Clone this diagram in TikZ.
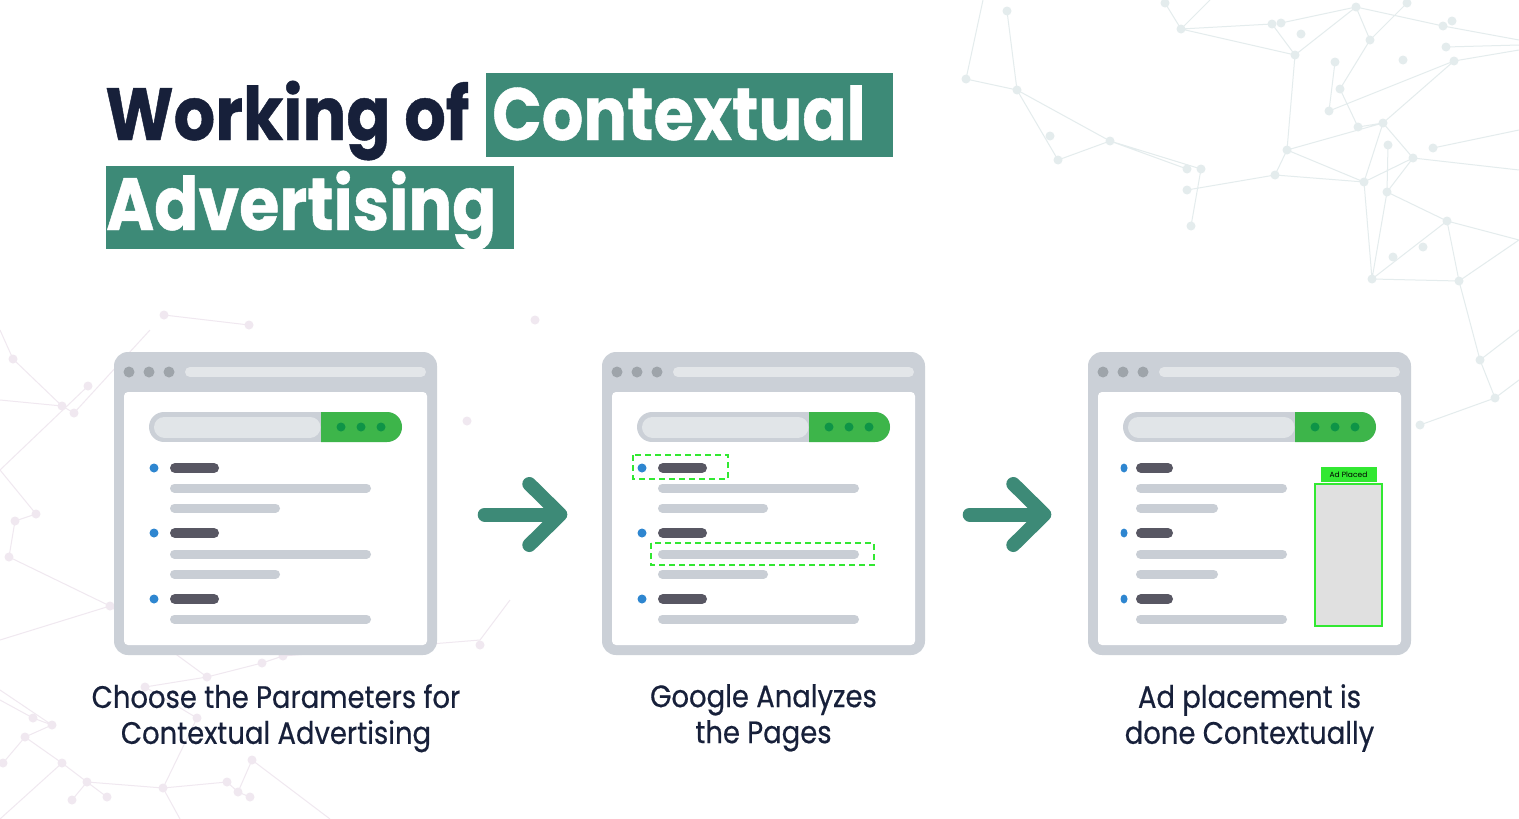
\documentclass[tikz,border=0pt]{standalone}
\usepackage{fontspec}
\setmainfont{Poppins}
\newfontfamily\headfont[FakeStretch=0.88, FakeBold=0.6]{Poppins}
\newfontfamily\capfont[FakeStretch=0.885, FakeBold=0.5]{Poppins}
\usepackage{tikz}
\usetikzlibrary{positioning,calc,arrows.meta}
\definecolor{cagreen}{RGB}{61,138,119}
\definecolor{canavy}{RGB}{23,32,58}
\definecolor{frame}{RGB}{203,208,215}
\definecolor{framedot}{RGB}{158,164,170}
\definecolor{addrbar}{RGB}{227,230,233}
\definecolor{field}{RGB}{225,229,232}
\definecolor{searchgreen}{RGB}{61,181,74}
\definecolor{searchdot}{RGB}{14,148,71}
\definecolor{bullet}{RGB}{46,134,208}
\definecolor{headbar}{RGB}{88,87,99}
\definecolor{textbar}{RGB}{201,206,213}
\definecolor{hilite}{RGB}{50,232,50}
\definecolor{adfill}{RGB}{224,224,224}
\definecolor{netblue}{RGB}{228,236,237}
\definecolor{netpink}{RGB}{240,232,240}
\tikzstyle{browser} = [rectangle, rounded corners=14pt, fill=frame, minimum width=323pt, minimum height=303pt, inner sep=0pt]
\tikzstyle{textline} = [line width=9pt, line cap=round, color=textbar]
\tikzstyle{headline} = [line width=10pt, line cap=round, color=headbar]
\tikzstyle{marked} = [draw=hilite, line width=2pt, dash pattern=on 6pt off 4pt]
\tikzstyle{flow} = [line width=14pt, line cap=round, color=cagreen, -{Straight Barb[round, length=31pt, width=61pt]}]
\tikzstyle{titletext} = [inner sep=0pt, font=\headfont\fontsize{74}{80}\selectfont\bfseries]
\tikzstyle{caption} = [inner sep=0pt, align=center, text=canavy, font=\capfont\fontsize{31}{36}\selectfont]

\begin{document}
\begin{tikzpicture}[x=1pt, y=-1pt]
\useasboundingbox[fill=white] (0,0) rectangle (1519,819);

% Network in the background
\draw[netblue, line width=1pt] (983,0) -- (966,79) -- (1017,90) -- (1007,11)
  (1017,90) -- (1058,160) -- (1110,141) -- (1017,90) (1110,141) -- (1187,169) (1110,141) -- (1201,169) -- (1191,226)
  (1187,190) -- (1275,175) (1165,3) -- (1181,29) -- (1210,0) (1181,29) -- (1272,24) -- (1295,55) -- (1181,29)
  (1295,55) -- (1356,7) -- (1281,23) (1295,55) -- (1287,150) (1356,7) -- (1370,40) -- (1340,89) -- (1358,127)
  (1370,40) -- (1407,3) (1335,62) -- (1329,111) -- (1454,61) (1358,127) -- (1383,123) -- (1287,150) -- (1364,182) -- (1275,175) -- (1287,150)
  (1383,123) -- (1413,158) -- (1364,182) -- (1383,123) (1388,145) -- (1387,192) -- (1413,158) (1387,192) -- (1447,221) -- (1372,279) -- (1364,182)
  (1387,192) -- (1372,279) -- (1459,281) -- (1447,221) (1383,123) -- (1454,61) (1356,7) -- (1443,26) -- (1519,40)
  (1446,47) -- (1519,45) (1413,158) -- (1519,170) (1433,148) -- (1519,130) (1454,61) -- (1519,50) (1459,281) -- (1519,240) -- (1447,221)
  (1459,281) -- (1480,360) -- (1519,330) (1495,398) -- (1519,380) (1480,360) -- (1495,398) -- (1420,425);
\foreach \p in {(1007,11),(966,79),(1017,90),(1050,136),(1058,160),(1110,141),(1187,169),(1201,169),(1187,190),(1191,226),
  (1181,29),(1165,3),(1272,24),(1281,23),(1295,55),(1301,34),(1356,7),(1370,40),(1335,62),(1340,89),(1329,111),(1358,127),
  (1383,123),(1287,150),(1275,175),(1388,145),(1413,158),(1364,182),(1387,192),(1433,148),(1403,60),(1407,3),(1443,26),
  (1446,47),(1454,61),(1452,21),(1447,221),(1423,247),(1393,257),(1372,279),(1459,281),(1480,360),(1495,398),(1420,425)}
  \fill[netblue] \p circle (4.5pt);
\draw[netpink, line width=1pt] (164,315) -- (249,325) (0,330) -- (13,359) -- (62,406) -- (74,413) -- (150,330) (0,400) -- (62,406)
  (88,386) -- (0,470) (0,470) -- (36,514) -- (15,521) -- (9,557) -- (110,606) -- (207,677) -- (262,663) -- (283,656) -- (480,640)
  (207,677) -- (145,687) -- (197,718) -- (163,788) (52,725) -- (33,718) (52,725) -- (25,737) -- (62,763) -- (87,782) -- (163,788) -- (227,782) -- (238,792) -- (252,760)
  (72,800) -- (87,782) -- (107,797) (3,763) -- (25,737) (250,797) -- (238,792) (0,640) -- (110,606) (0,690) -- (52,725)
  (62,763) -- (0,819) (163,788) -- (180,819) (252,760) -- (330,819) (480,640) -- (510,600) (33,718) -- (0,700);
\foreach \p in {(164,315),(249,325),(13,359),(88,386),(74,413),(62,406),(36,514),(15,521),(9,557),(110,606),(207,677),
  (262,663),(283,656),(52,725),(33,718),(25,737),(62,763),(87,782),(163,788),(72,800),(227,782),(238,792),(252,760),
  (250,797),(107,797),(197,718),(145,687),(3,763),(467,421),(480,645),(535,320)}
  \fill[netpink] \p circle (4.5pt);

% Title
\node[titletext, text=canavy, anchor=base west] (working) at (105,140) {Working of};
\node[fill=cagreen, anchor=north west, minimum width=407pt, minimum height=84pt, inner sep=0pt] (ctxbox) at (486,73) {};
\node[titletext, text=white, anchor=base west] (ctx) at (492,140) {Contextual};
\node[fill=cagreen, anchor=north west, minimum width=408pt, minimum height=83pt, inner sep=0pt] (advbox) at (106,166) {};
\node[titletext, text=white, anchor=base west] (adv) at (106,230) {Advertising};

% Browser windows
\foreach \i/\dx in {1/0,2/488,3/974}{
  \begin{scope}[shift={(\dx,0)}]
    \node[browser] (win\i) at (275.5,503.5) {};
    \fill[white, rounded corners=4pt] (124,392) rectangle (427,645);
    \foreach \cx in {129,149,169} \fill[framedot] (\cx,372) circle (5.5pt);
    \draw[addrbar, line width=10pt, line cap=round] (190,372) -- (421,372);
    % search bar
    \draw[frame, line width=30pt, line cap=round] (164,427) -- (387,427);
    \draw[field, line width=21pt, line cap=round] (164.5,427) -- (310,427);
    \fill[searchgreen] (321,412) -- (387,412) arc[start angle=-90, end angle=90, radius=15] -- (321,442) -- cycle;
    \foreach \cx in {341,361,381} \fill[searchdot] (\cx,427) circle (4.5pt);
  \end{scope}
}

% Result lists
\foreach \dx in {0,488}{
  \begin{scope}[shift={(\dx,0)}]
    \foreach \ty in {468,533,599}{
      \fill[bullet] (154,\ty) circle (4.5pt);
      \draw[headline] (175,\ty) -- (214,\ty);
    }
    \foreach \ty in {488,554,619} \draw[textline] (174.5,\ty) -- (366.5,\ty);
    \foreach \ty in {508,574} \draw[textline] (174.5,\ty) -- (275.5,\ty);
  \end{scope}
}
\foreach \ty in {468,533,599}{
  \fill[bullet] (1124,\ty) ellipse [x radius=3.5, y radius=4.5];
  \draw[headline] (1141,\ty) -- (1168,\ty);
}
\foreach \ty in {488,554,619} \draw[textline] (1140.5,\ty) -- (1282.5,\ty);
\foreach \ty in {508,574} \draw[textline] (1140.5,\ty) -- (1213.5,\ty);

% What Google looks at
\draw[marked] (633,455) rectangle (728,479);
\draw[marked] (651,543) rectangle (874,565);

% The ad
\node[draw=hilite, line width=2pt, fill=adfill, minimum width=67pt, minimum height=142pt, inner sep=0pt, anchor=north west] (adslot) at (1314,483) {};
\node[fill=hilite, minimum width=56pt, minimum height=15pt, inner sep=0pt, font=\fontsize{7.5}{8}\selectfont, anchor=south] (adtag) at ([yshift=1pt]adslot.north) {Ad Placed};

% Arrows
\draw[flow, shorten <=47.5pt, shorten >=34.5pt] ([yshift=-11pt]win1.east) -- ([yshift=-11pt]win2.west);
\draw[flow, shorten <=44.5pt, shorten >=36.5pt] ([yshift=-11pt]win2.east) -- ([yshift=-11pt]win3.west);

% Captions
\node[caption, anchor=north] (cap1) at (276,684) {Choose the Parameters for\\Contextual Advertising};
\node[caption, anchor=north] (cap2) at (763.5,684) {Google Analyzes\\the Pages};
\node[caption, anchor=north] (cap3) at (1249.5,684) {Ad placement is\\done Contextually};
\end{tikzpicture}
\end{document}
